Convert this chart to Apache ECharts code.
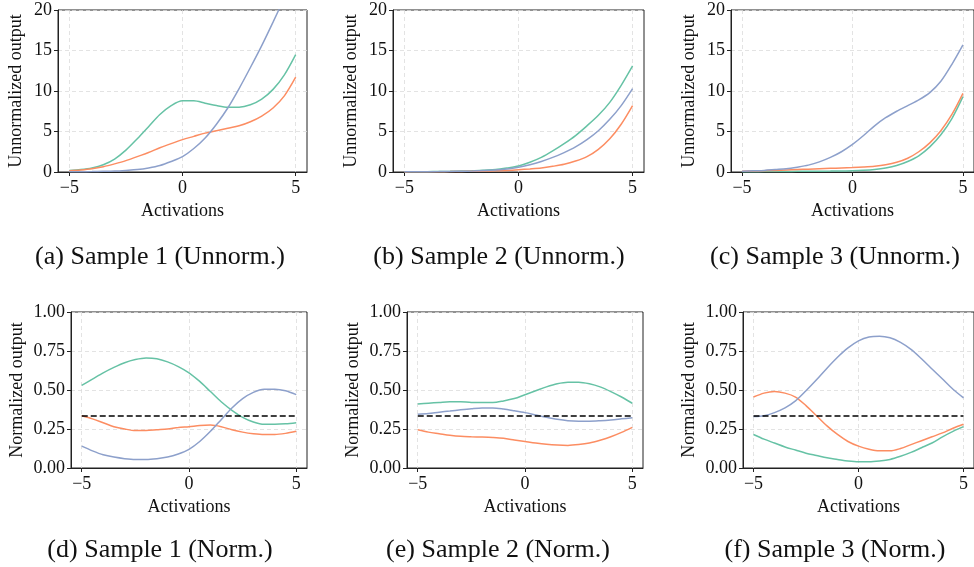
<!DOCTYPE html>
<html><head><meta charset="utf-8">
<script src="https://cdn.jsdelivr.net/npm/echarts@6/dist/echarts.min.js"></script>
<style>html,body{margin:0;padding:0;background:#fff}#c{width:974px;height:567px}</style>
</head><body><div id="c"></div>
<script>
// shared activation grid
const xs = [-5,-4.5,-4,-3.5,-3,-2.5,-2,-1.5,-1,-0.5,0,0.5,1,1.5,2,2.5,3,3.5,4,4.5,5];
const xTicks = [-5, 0, 5];
const yTicksUnnorm = [0, 5, 10, 15, 20];
const yTicksNorm = [0, 0.25, 0.5, 0.75, 1];
const uniform = 1 / 3;

// (a) Sample 1 unnormalized
const aGreen  = [0.2,0.3,0.5,0.9,1.6,2.7,4.1,5.6,7.1,8.2,8.8,8.8,8.5,8.2,8.0,8.0,8.3,9.0,10.2,12.0,14.5];
const aOrange = [0.15,0.25,0.4,0.65,1.0,1.4,1.9,2.4,3.0,3.5,4.0,4.4,4.8,5.1,5.4,5.7,6.2,6.9,7.9,9.4,11.7];
const aBlue   = [0.02,0.03,0.05,0.08,0.12,0.2,0.3,0.5,0.8,1.3,1.9,2.9,4.2,5.9,7.9,10.3,12.9,15.6,18.5,21.5,24.5];
// (b) Sample 2 unnormalized
const bGreen  = [0.02,0.03,0.04,0.06,0.08,0.11,0.15,0.22,0.3,0.5,0.75,1.2,1.8,2.6,3.5,4.5,5.7,7.0,8.6,10.7,13.1];
const bOrange = [0.01,0.02,0.03,0.04,0.05,0.07,0.09,0.12,0.15,0.2,0.28,0.38,0.5,0.7,0.95,1.35,1.9,2.8,4.1,5.9,8.2];
const bBlue   = [0.02,0.03,0.04,0.05,0.07,0.09,0.12,0.17,0.25,0.38,0.6,0.9,1.3,1.8,2.4,3.1,4.0,5.1,6.5,8.2,10.3];
// (c) Sample 3 unnormalized
const cGreen  = [0.03,0.04,0.05,0.06,0.07,0.08,0.09,0.1,0.11,0.13,0.16,0.22,0.32,0.5,0.8,1.3,2.0,3.1,4.6,6.6,9.3];
const cOrange = [0.1,0.12,0.15,0.2,0.25,0.3,0.35,0.4,0.45,0.5,0.55,0.62,0.72,0.9,1.2,1.7,2.5,3.6,5.1,7.1,9.7];
const cBlue   = [0.1,0.15,0.2,0.3,0.4,0.6,0.85,1.25,1.8,2.5,3.4,4.5,5.7,6.7,7.5,8.2,8.9,9.8,11.2,13.3,15.7];
// (d) Sample 1 normalized
const dGreen  = [0.53,0.57,0.61,0.645,0.675,0.695,0.705,0.70,0.68,0.65,0.61,0.555,0.49,0.425,0.37,0.325,0.295,0.28,0.28,0.283,0.29];
const dOrange = [0.335,0.315,0.29,0.265,0.25,0.24,0.24,0.245,0.25,0.26,0.265,0.272,0.275,0.265,0.245,0.23,0.22,0.215,0.215,0.222,0.235];
const dBlue   = [0.14,0.11,0.085,0.07,0.06,0.055,0.055,0.06,0.07,0.09,0.12,0.17,0.235,0.31,0.385,0.445,0.485,0.505,0.505,0.495,0.47];
// (e) Sample 2 normalized
const eGreen  = [0.41,0.415,0.42,0.425,0.425,0.42,0.42,0.42,0.43,0.445,0.47,0.495,0.52,0.54,0.55,0.55,0.54,0.52,0.49,0.455,0.415];
const eOrange = [0.245,0.23,0.22,0.21,0.203,0.2,0.198,0.195,0.19,0.18,0.17,0.16,0.152,0.147,0.145,0.15,0.16,0.178,0.2,0.228,0.26];
const eBlue   = [0.345,0.35,0.358,0.365,0.373,0.38,0.385,0.385,0.378,0.367,0.355,0.34,0.325,0.312,0.303,0.3,0.3,0.303,0.308,0.315,0.322];
// (f) Sample 3 normalized
const fGreen  = [0.215,0.185,0.16,0.135,0.115,0.095,0.08,0.065,0.055,0.045,0.04,0.04,0.045,0.055,0.075,0.1,0.13,0.16,0.2,0.235,0.265];
const fOrange = [0.455,0.48,0.49,0.48,0.455,0.4,0.335,0.27,0.215,0.17,0.14,0.12,0.11,0.11,0.125,0.15,0.175,0.2,0.225,0.255,0.28];
const fBlue   = [0.33,0.335,0.355,0.385,0.43,0.495,0.565,0.64,0.71,0.77,0.815,0.84,0.845,0.835,0.805,0.76,0.70,0.635,0.57,0.505,0.45];

const captions = ['(a) Sample 1 (Unnorm.)','(b) Sample 2 (Unnorm.)','(c) Sample 3 (Unnorm.)',
                  '(d) Sample 1 (Norm.)','(e) Sample 2 (Norm.)','(f) Sample 3 (Norm.)'];

const GREEN = '#66c2a5', ORANGE = '#fc8d62', BLUE = '#8da0cb';
const FONT = '"Liberation Serif", "Times New Roman", serif';

const panels = [
  {g:aGreen,o:aOrange,b:aBlue,norm:false, grid:{left:58,top:10,width:249,height:162}, cap:[160,257]},
  {g:bGreen,o:bOrange,b:bBlue,norm:false, grid:{left:393,top:10,width:251,height:162}, cap:[499,257]},
  {g:cGreen,o:cOrange,b:cBlue,norm:false, grid:{left:731,top:10,width:249,height:162}, cap:[835,257]},
  {g:dGreen,o:dOrange,b:dBlue,norm:true, grid:{left:71,top:312,width:236,height:156}, cap:[160,550]},
  {g:eGreen,o:eOrange,b:eBlue,norm:true, grid:{left:407,top:312,width:236,height:156}, cap:[498,550]},
  {g:fGreen,o:fOrange,b:fBlue,norm:true, grid:{left:743,top:312,width:237,height:156}, cap:[835,550]}
];

const zip = v => xs.map((x,i)=>[x,v[i]]);
const grids=[], xAxes=[], yAxes=[], series=[], graphics=[];
const split = {show:true, lineStyle:{type:[4,3], color:'#dcdcdc', width:0.8}};

panels.forEach((p,i)=>{
  grids.push(Object.assign({show:true, borderColor:'#222', borderWidth:1, backgroundColor:'transparent'}, p.grid));
  xAxes.push({
    type:'value', gridIndex:i, min:-5.5, max:5.5,
    axisLine:{show:true, onZero:false, lineStyle:{color:'#222', width:1}},
    axisTick:{show:true, customValues:xTicks, length:4, lineStyle:{color:'#222'}},
    axisLabel:{customValues:xTicks, formatter:v=>String(v).replace('-','\u2212'), fontFamily:FONT, fontSize:18, color:'#111', margin:7},
    splitLine:split,
    name:'Activations', nameLocation:'middle', nameGap:30,
    nameTextStyle:{fontFamily:FONT, fontSize:18, color:'#111'}
  });
  const yt = p.norm ? yTicksNorm : yTicksUnnorm;
  yAxes.push({
    type:'value', gridIndex:i, min:yt[0], max:yt[yt.length-1], interval:yt[1]-yt[0],
    axisLine:{show:true, onZero:false, lineStyle:{color:'#222', width:1}},
    axisTick:{show:true, length:4, lineStyle:{color:'#222'}},
    axisLabel:{formatter:v=> p.norm ? v.toFixed(2) : String(v), fontFamily:FONT, fontSize:18, color:'#111', margin:6},
    splitLine:split,
    name: p.norm ? 'Normalized output' : 'Unnormalized output',
    nameLocation:'middle', nameGap: p.norm ? 45 : 33,
    nameTextStyle:{fontFamily:FONT, fontSize:18, color:'#111'}
  });
  const mk = (d,c)=>({type:'line', xAxisIndex:i, yAxisIndex:i, data:zip(d), smooth:0.3, showSymbol:false,
    lineStyle:{color:c, width:1.5}, itemStyle:{color:c}, silent:true, animation:false, clip:true});
  series.push(mk(p.g,GREEN), mk(p.o,ORANGE), mk(p.b,BLUE));
  if (p.norm) {
    series.push({type:'line', xAxisIndex:i, yAxisIndex:i, data:[[xTicks[0],uniform],[xTicks[2],uniform]],
      showSymbol:false, lineStyle:{color:'#000', width:1.6, type:[6,3]}, silent:true, animation:false});
  }
  graphics.push({type:'text', x:p.cap[0], y:p.cap[1], style:{text:captions[i], font:'26px '+FONT, fill:'#111', textAlign:'center', textVerticalAlign:'middle'}});
});

const chart = echarts.init(document.getElementById('c'), null, {renderer:'canvas'});
chart.setOption({animation:false, backgroundColor:'#fff', grid:grids, xAxis:xAxes, yAxis:yAxes, series:series, graphic:graphics});
</script></body></html>
